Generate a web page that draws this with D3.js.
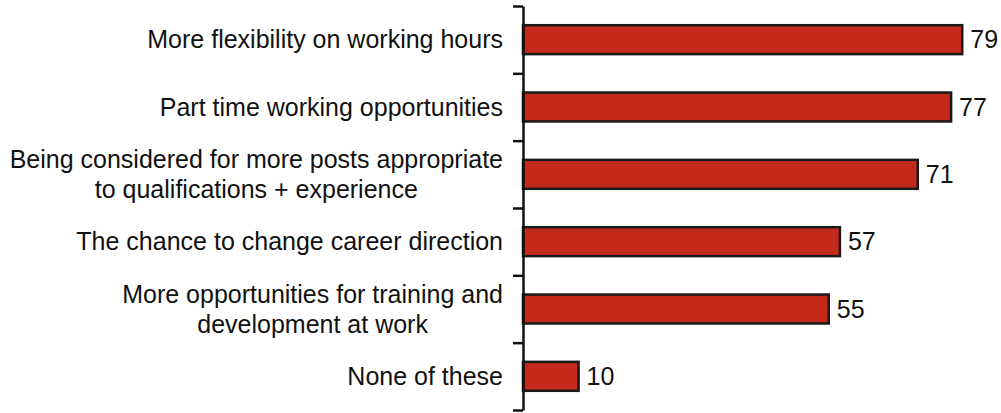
<!DOCTYPE html>
<html>
<head>
<meta charset="utf-8">
<script src="https://cdn.jsdelivr.net/npm/d3@7"></script>
<style>
  html, body { margin: 0; padding: 0; background: #fff; }
  svg { display: block; }
  text { font-family: "Liberation Sans", Arial, sans-serif; fill: #111; }
</style>
</head>
<body>
<svg id="chart" width="1001" height="413"></svg>
<script>
const categories = [
  ["More flexibility on working hours"],
  ["Part time working opportunities"],
  ["Being considered for more posts appropriate", "to qualifications + experience"],
  ["The chance to change career direction"],
  ["More opportunities for training and", "development at work"],
  ["None of these"]
];
const values = [79, 77, 71, 57, 55, 10];

(function () {
const svg = d3.select("#chart");
const axisX = 523, yTop = 6, yBottom = 410;
const x = d3.scaleLinear().domain([0, 100]).range([axisX, axisX + 556]);
const idx = d3.range(categories.length);
const y = d3.scaleBand().domain(idx).range([yTop, yBottom]).padding(0);
const yEdge = d3.scaleLinear().domain([0, categories.length]).range([yTop, yBottom]);
const barH = y.bandwidth() * 0.43;

// bars
svg.append("g").selectAll("rect").data(idx).join("rect")
  .attr("x", x(0))
  .attr("y", i => y(i) + y.bandwidth() / 2 - barH / 2)
  .attr("width", i => x(values[i]) - x(0))
  .attr("height", barH)
  .attr("fill", "#c42a1c")
  .attr("stroke", "#1a1a1a")
  .attr("stroke-width", 2.5);

// axis
const axis = d3.axisLeft(yEdge).tickValues(d3.range(categories.length + 1))
  .tickFormat("").tickSize(10).tickSizeOuter(0);
const ag = svg.append("g").attr("transform", `translate(${axisX},0)`).call(axis);
ag.select(".domain").attr("stroke", "#111").attr("stroke-width", 2.5);
ag.selectAll(".tick line").attr("stroke", "#111").attr("stroke-width", 2.5);

// value labels
svg.append("g").selectAll("text").data(idx).join("text")
  .attr("x", i => x(values[i]) + 8)
  .attr("y", i => y(i) + y.bandwidth() / 2)
  .attr("dy", "0.35em")
  .attr("font-size", 25)
  .text(i => values[i]);

// category labels: right-aligned block, lines centered within block
const rightEdge = 503, lineH = 30;
const lg = svg.append("g");
idx.forEach(i => {
  const lines = categories[i];
  const t = lg.append("text").attr("font-size", 25).attr("text-anchor", "middle");
  const cy = y(i) + y.bandwidth() / 2;
  const spans = lines.map((ln, k) => t.append("tspan")
    .attr("y", cy + (k - (lines.length - 1) / 2) * lineH)
    .attr("dy", "0.35em")
    .text(ln));
  const w = d3.max(spans, s => s.node().getComputedTextLength());
  spans.forEach(s => s.attr("x", rightEdge - w / 2));
});
})();
</script>
</body>
</html>
